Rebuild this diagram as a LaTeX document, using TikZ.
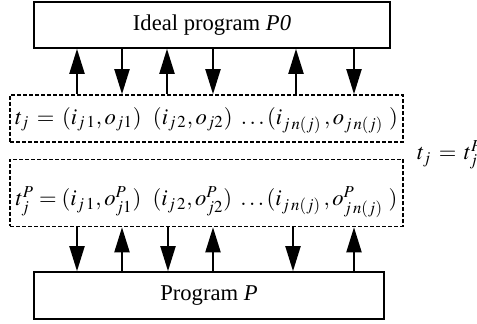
\documentclass[tikz,border=0pt]{standalone}
\usepackage{mathptmx}
\usepackage{fontspec}
\setmainfont{Liberation Serif}
\usetikzlibrary{arrows.meta}

\begin{document}
\begin{tikzpicture}[x=0.5pt, y=-0.5pt, font=\fontsize{11.3}{13}\selectfont,
  progbox/.style={draw, line width=0.8pt, inner sep=0pt},
  tracebox/.style={draw, line width=0.8pt, dash pattern=on 2pt off 1pt, inner sep=1.25pt},
  flow/.style={line width=1pt, -{Triangle[length=12.5pt,width=7.5pt]}}]

\useasboundingbox (0,0) rectangle (477,324);

% Programs (solid boxes)
\node[progbox, minimum width=178pt, minimum height=23pt] (ideal) at (212,25) {Ideal program \textit{P0}};
\node[progbox, minimum width=175pt, minimum height=23.5pt] (prog) at (209,295.5) {Program \textit{P}};

% Traces (dashed boxes)
\node[tracebox, minimum width=196.5pt, minimum height=23.5pt, text height=13.5pt, text depth=7.5pt] (tj) at (206.5,118.5)
  {$t_j \,=\, (i_{j\,1}, o_{j1})\ \ (i_{j\,2}, o_{j2})\ \ldots(i_{j\,n(j)}\,, o_{j\,n(j)}\ )$};
\node[tracebox, minimum width=196.5pt, minimum height=33.5pt, text height=22pt, text depth=9pt] (tjp) at (206.5,193)
  {$t^P_j = (i_{j\,1}, o^P_{j1})\ \ (i_{j\,2}, o^P_{j2})\ \ldots(i_{j\,n(j)}\,, o^P_{j\,n(j)}\ )$};

% Equality of traces
\node[anchor=west] (same) at (410,155) {$t_j \,=\, t^P_j$};

% Inputs and outputs of P0
\foreach \x in {77,167,296}
  \draw[flow] (tj.north -| \x,0) -- (ideal.south -| \x,0);
\foreach \x in {122,213,354}
  \draw[flow] (ideal.south -| \x,0) -- (tj.north -| \x,0);

% Inputs and outputs of P
\foreach \x in {77,168,293}
  \draw[flow] (tjp.south -| \x,0) -- (prog.north -| \x,0);
\foreach \x in {122,213,354}
  \draw[flow] (prog.north -| \x,0) -- (tjp.south -| \x,0);

\end{tikzpicture}
\end{document}
